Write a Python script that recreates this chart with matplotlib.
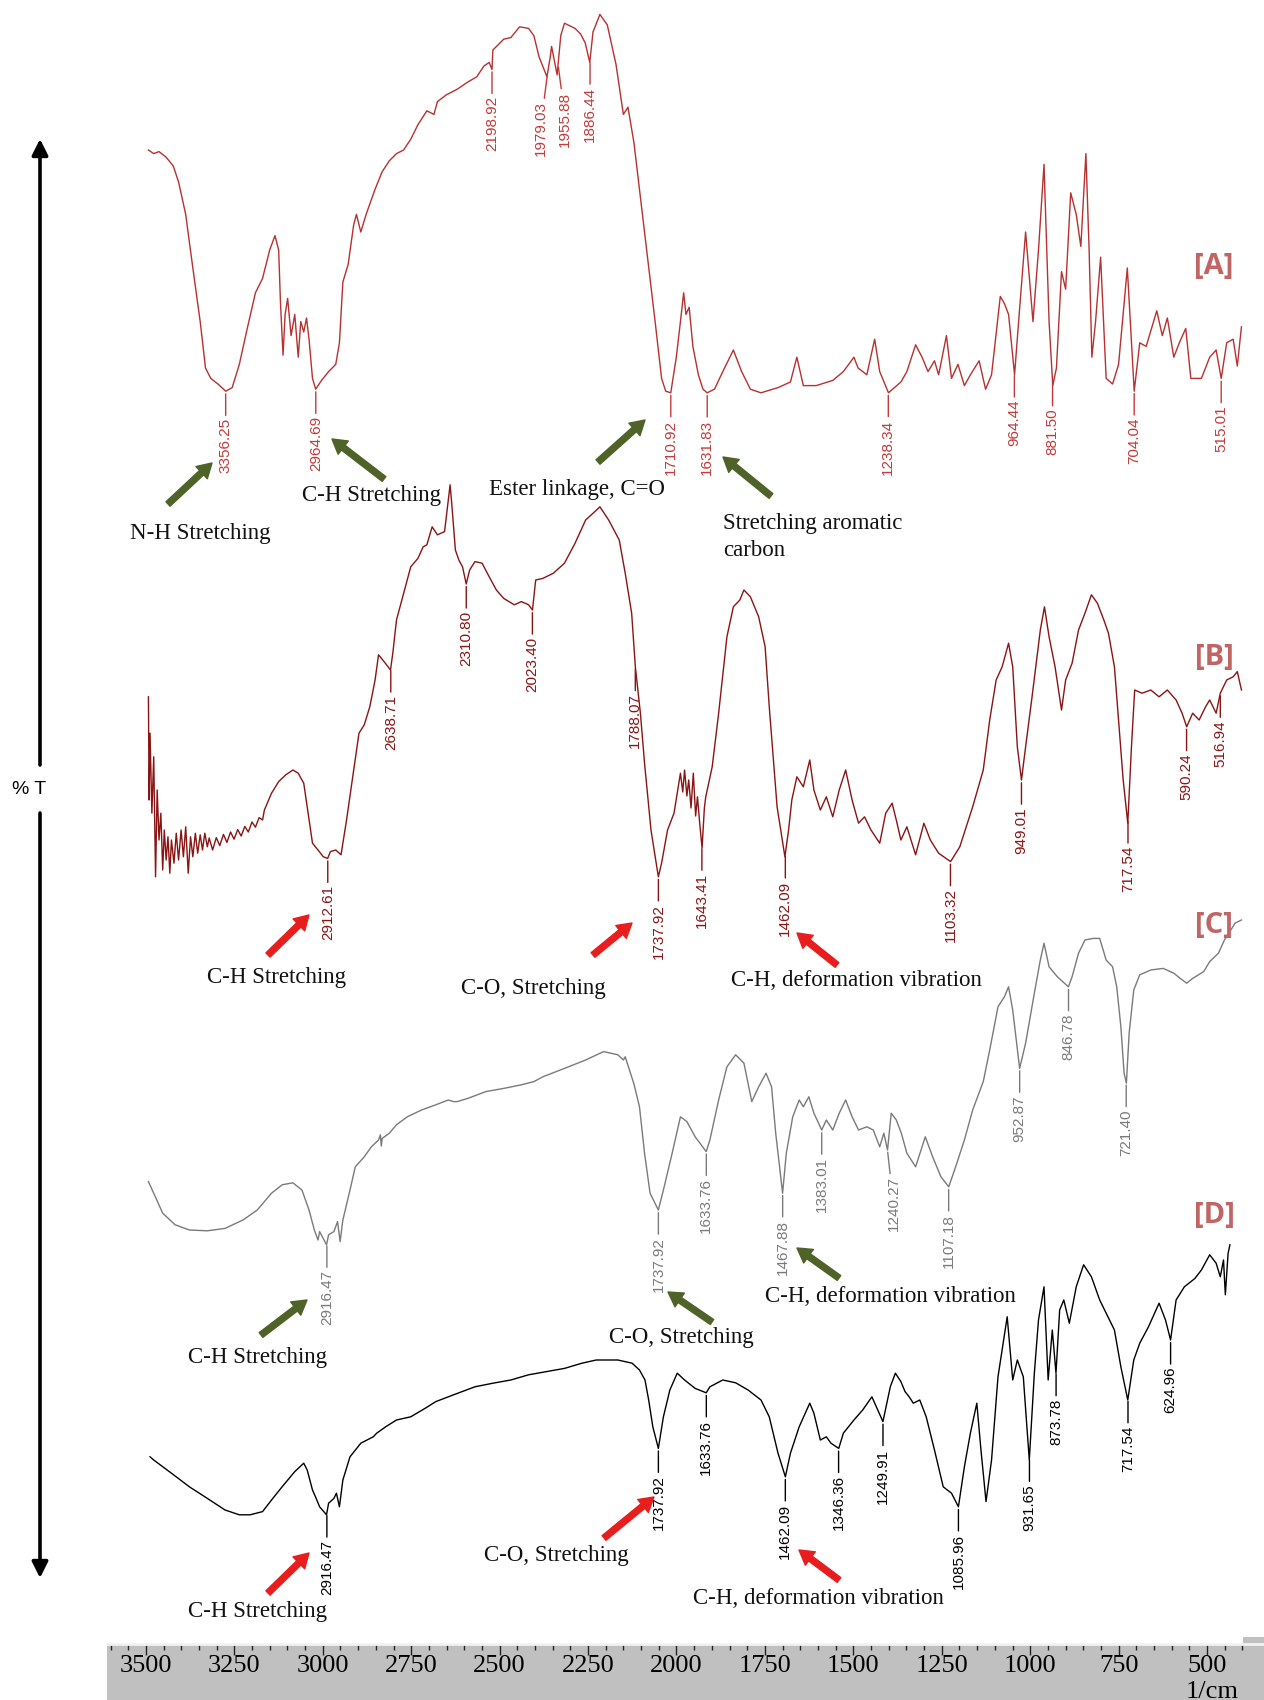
import numpy as np
import matplotlib.pyplot as plt
from matplotlib.patches import Rectangle

# FTIR spectra: (wavenumber 1/cm, transmittance in arbitrary %T units)
a_pts = [(3692, 67.5), (3669, 66.6), (3646, 67.1), (3615, 65.7), (3584, 63.5), (3561, 59.5), (3530, 51.4),
         (3499, 38.0), (3467, 24.6), (3444, 13.0), (3421, 10.4), (3390, 9.0), (3356, 7.2), (3328, 8.1),
         (3297, 13.9), (3266, 22.0), (3227, 31.8), (3196, 35.4), (3165, 42.5), (3142, 46.1), (3126, 42.5),
         (3118, 29.1), (3107, 16.2), (3098, 26.4), (3087, 30.4), (3072, 21.1), (3056, 26.4), (3041, 15.7),
         (3030, 24.6), (3017, 22.0), (3005, 25.5), (2994, 20.2), (2979, 10.4), (2965, 7.7), (2940, 9.9),
         (2909, 12.1), (2878, 13.9), (2862, 19.3), (2847, 34.5), (2824, 38.9), (2800, 48.8), (2788, 51.4),
         (2769, 47.0), (2746, 51.4), (2707, 57.7), (2676, 62.1), (2645, 64.8), (2614, 66.6), (2583, 67.5),
         (2552, 70.2), (2521, 73.8), (2482, 77.3), (2451, 76.4), (2436, 79.6), (2397, 81.3), (2350, 82.7),
         (2304, 84.5), (2265, 85.8), (2234, 88.5), (2211, 89.4), (2199, 87.6), (2195, 92.5), (2148, 95.2),
         (2117, 95.6), (2079, 98.3), (2040, 97.9), (2017, 96.1), (1997, 90.7), (1980, 85.8), (1973, 90.7),
         (1970, 93.4), (1958, 86.3), (1950, 96.1), (1942, 99.2), (1919, 97.9), (1907, 96.5), (1897, 94.3),
         (1887, 89.4), (1880, 97.0), (1865, 101.4), (1849, 98.8), (1830, 88.9), (1814, 76.4), (1804, 78.2),
         (1791, 69.3), (1768, 47.0), (1745, 24.6), (1731, 10.4), (1722, 7.2), (1711, 6.8), (1699, 15.7),
         (1690, 24.6), (1683, 31.8), (1678, 26.4), (1671, 28.2), (1663, 18.4), (1651, 11.3), (1641, 7.7),
         (1632, 6.8), (1616, 7.7), (1598, 12.1), (1575, 17.5), (1557, 12.1), (1538, 7.7), (1515, 6.8),
         (1478, 8.1), (1451, 9.5), (1437, 15.7), (1423, 8.6), (1395, 8.6), (1359, 9.9), (1336, 12.1),
         (1313, 15.7), (1304, 13.0), (1285, 11.3), (1268, 20.2), (1257, 12.1), (1238, 6.8), (1211, 9.5),
         (1198, 12.1), (1179, 18.8), (1165, 15.7), (1152, 12.1), (1138, 14.8), (1129, 11.3), (1112, 21.1),
         (1101, 10.4), (1087, 13.9), (1073, 8.6), (1060, 11.3), (1041, 14.8), (1027, 7.7), (1014, 11.3),
         (995, 30.9), (986, 29.1), (977, 26.4), (964, 11.3), (954, 26.4), (940, 47.0), (924, 24.6),
         (912, 42.5), (900, 63.9), (889, 24.6), (881, 8.6), (873, 13.0), (862, 37.1), (853, 32.7),
         (842, 56.8), (830, 51.4), (820, 43.4), (809, 66.6), (802, 42.5), (796, 15.7), (788, 24.6),
         (777, 40.7), (765, 10.4), (751, 9.0), (738, 13.9), (719, 38.0), (704, 7.2), (692, 19.3),
         (678, 18.4), (655, 27.3), (643, 21.1), (632, 25.5), (618, 15.7), (606, 19.3), (592, 22.9),
         (581, 10.4), (558, 10.4), (540, 15.7), (526, 17.5), (515, 10.4), (503, 19.3), (489, 20.2),
         (480, 13.5), (471, 23.3)]

b_pts = [(3692, 55.8), (3689, 30.0), (3685, 46.7), (3677, 26.7), (3669, 40.8), (3661, 10.8), (3654, 32.5),
         (3646, 20.0), (3638, 26.7), (3630, 12.5), (3623, 22.5), (3615, 15.0), (3607, 20.8), (3599, 11.7),
         (3592, 20.0), (3581, 14.2), (3571, 21.7), (3561, 15.0), (3550, 22.5), (3540, 15.8), (3530, 23.3),
         (3519, 11.7), (3509, 20.8), (3499, 15.8), (3488, 21.7), (3478, 16.7), (3467, 21.3), (3457, 17.5),
         (3447, 21.7), (3436, 18.3), (3428, 20.5), (3413, 17.5), (3397, 20.6), (3382, 18.6), (3366, 21.4),
         (3351, 19.4), (3335, 22.0), (3320, 20.2), (3304, 22.6), (3289, 21.0), (3273, 23.4), (3258, 22.0),
         (3242, 24.5), (3227, 23.2), (3211, 25.6), (3196, 25.0), (3188, 27.5), (3157, 31.7), (3126, 34.6),
         (3095, 36.3), (3064, 37.5), (3041, 36.7), (3017, 34.2), (3002, 28.3), (2979, 19.2), (2955, 17.5),
         (2932, 15.8), (2913, 15.4), (2901, 17.1), (2878, 17.5), (2855, 16.3), (2831, 25.0), (2800, 37.5),
         (2777, 46.7), (2754, 48.8), (2730, 53.3), (2707, 60.0), (2692, 66.3), (2668, 64.6), (2640, 62.5),
         (2630, 66.7), (2614, 75.0), (2583, 81.7), (2552, 88.3), (2521, 90.4), (2498, 93.3), (2482, 93.8),
         (2459, 98.3), (2436, 96.3), (2405, 97.1), (2389, 105.0), (2381, 108.8), (2374, 104.2), (2358, 92.5),
         (2343, 90.0), (2327, 88.3), (2311, 84.0), (2296, 87.5), (2273, 89.6), (2242, 89.2), (2211, 85.8),
         (2180, 82.5), (2148, 80.4), (2102, 78.8), (2071, 79.6), (2040, 78.8), (2023, 77.5), (2015, 81.7),
         (2009, 85.0), (1989, 85.4), (1966, 86.7), (1942, 89.2), (1919, 94.2), (1896, 100.0), (1876, 102.1),
         (1865, 103.3), (1846, 100.0), (1823, 95.0), (1810, 86.7), (1796, 76.7), (1788, 63.3), (1777, 51.7),
         (1768, 39.2), (1754, 22.5), (1738, 10.8), (1731, 14.2), (1718, 22.5), (1704, 26.7), (1690, 36.7),
         (1685, 32.0), (1681, 37.5), (1676, 31.0), (1672, 35.0), (1667, 28.0), (1662, 36.7), (1657, 26.0),
         (1653, 30.8), (1648, 24.0), (1643, 18.0), (1638, 28.0), (1635, 30.8), (1621, 38.3), (1607, 51.7),
         (1589, 70.8), (1575, 78.3), (1561, 80.0), (1552, 82.5), (1538, 80.8), (1520, 75.8), (1506, 68.3),
         (1497, 53.3), (1480, 28.3), (1463, 15.8), (1455, 22.5), (1448, 30.0), (1437, 35.8), (1423, 33.3),
         (1409, 40.0), (1400, 32.5), (1386, 27.5), (1373, 30.8), (1359, 25.8), (1345, 32.5), (1331, 37.5),
         (1317, 30.0), (1303, 24.2), (1290, 25.8), (1276, 22.5), (1257, 19.2), (1244, 26.7), (1230, 29.2),
         (1221, 25.0), (1211, 20.0), (1198, 23.3), (1179, 16.3), (1161, 24.2), (1147, 20.0), (1129, 16.7),
         (1103, 14.6), (1083, 18.3), (1055, 28.3), (1032, 37.5), (1018, 50.0), (1004, 60.0), (991, 63.3),
         (977, 69.2), (968, 63.3), (958, 43.3), (949, 35.0), (940, 43.3), (926, 55.8), (908, 72.5),
         (899, 78.3), (889, 70.8), (876, 63.3), (862, 52.5), (853, 60.0), (839, 64.2), (825, 72.5),
         (811, 76.7), (797, 81.3), (784, 79.2), (770, 75.0), (760, 71.7), (747, 63.3), (738, 50.0),
         (728, 35.0), (718, 24.2), (710, 43.3), (703, 57.5), (687, 56.7), (668, 57.5), (650, 55.8),
         (632, 57.5), (613, 55.0), (600, 51.7), (590, 48.3), (577, 51.7), (563, 50.0), (549, 53.3),
         (540, 55.0), (526, 51.7), (517, 56.7), (503, 60.0), (489, 60.8), (480, 62.1), (471, 57.5)]

c_pts = [(3692, 17.1), (3669, 14.2), (3630, 9.2), (3576, 6.3), (3514, 5.0), (3436, 4.8), (3359, 5.4),
         (3281, 7.5), (3219, 10.0), (3157, 14.2), (3111, 16.3), (3064, 16.8), (3025, 15.0), (2994, 10.0),
         (2971, 5.0), (2955, 2.5), (2948, 4.6), (2918, 1.3), (2909, 3.8), (2886, 4.6), (2870, 7.1),
         (2859, 2.1), (2847, 7.5), (2816, 15.0), (2793, 20.8), (2754, 23.3), (2723, 25.8), (2692, 27.5),
         (2684, 28.8), (2680, 26.0), (2676, 27.9), (2645, 29.2), (2614, 31.3), (2567, 33.3), (2505, 35.0),
         (2443, 36.3), (2389, 37.5), (2366, 37.1), (2350, 37.1), (2304, 37.9), (2226, 39.6), (2148, 40.4),
         (2071, 41.3), (2017, 42.1), (1989, 43.3), (1942, 45.4), (1896, 47.5), (1857, 49.6), (1826, 48.8),
         (1814, 47.5), (1810, 48.3), (1791, 41.5), (1779, 35.8), (1768, 24.2), (1756, 14.2), (1738, 10.0),
         (1727, 15.0), (1708, 24.2), (1690, 33.3), (1676, 32.1), (1658, 28.3), (1634, 24.6), (1626, 27.5),
         (1607, 37.5), (1589, 45.8), (1570, 48.8), (1552, 46.7), (1535, 37.1), (1520, 40.8), (1504, 44.2),
         (1492, 40.8), (1483, 29.2), (1468, 14.2), (1460, 24.2), (1446, 33.3), (1432, 37.5), (1423, 35.8),
         (1411, 38.3), (1400, 34.2), (1383, 30.0), (1373, 32.5), (1359, 30.0), (1345, 34.2), (1331, 37.5),
         (1317, 33.3), (1303, 30.0), (1285, 30.8), (1271, 30.0), (1257, 25.8), (1248, 29.2), (1240, 25.0),
         (1232, 34.2), (1221, 32.5), (1210, 29.2), (1198, 24.2), (1179, 20.8), (1158, 28.3), (1142, 23.3),
         (1124, 18.3), (1107, 15.8), (1092, 20.8), (1073, 27.5), (1055, 35.0), (1032, 42.1), (1018, 50.0),
         (1000, 60.8), (986, 63.3), (977, 65.8), (968, 60.0), (953, 45.4), (940, 51.7), (921, 64.2),
         (908, 72.5), (900, 76.7), (889, 70.8), (871, 68.3), (847, 65.8), (839, 68.3), (825, 74.2),
         (811, 77.5), (793, 77.9), (779, 77.9), (765, 72.5), (751, 70.8), (742, 65.8), (733, 55.8),
         (726, 44.2), (721, 41.7), (715, 54.2), (705, 65.0), (692, 68.8), (668, 70.0), (641, 70.4),
         (618, 69.2), (604, 67.9), (590, 66.7), (577, 67.9), (553, 69.6), (540, 72.1), (521, 74.2),
         (508, 77.5), (494, 80.0), (485, 81.7), (471, 82.5)]

d_pts = [(3685, 20.8), (3669, 20.0), (3592, 16.7), (3514, 13.3), (3436, 10.4), (3359, 7.5), (3297, 6.3),
         (3250, 6.3), (3196, 7.1), (3157, 10.0), (3111, 13.3), (3056, 17.1), (3017, 19.2), (3002, 17.5),
         (2979, 12.5), (2963, 10.4), (2948, 8.3), (2918, 6.3), (2909, 9.2), (2886, 10.4), (2875, 11.7),
         (2862, 8.3), (2847, 15.0), (2816, 20.8), (2769, 24.2), (2715, 25.8), (2700, 26.7), (2661, 28.3),
         (2614, 30.0), (2552, 30.8), (2490, 32.9), (2443, 34.6), (2366, 36.3), (2273, 38.3), (2195, 39.2),
         (2117, 40.0), (2040, 41.3), (1981, 42.1), (1942, 42.9), (1904, 44.2), (1873, 45.0), (1826, 45.0),
         (1795, 44.2), (1779, 42.5), (1767, 40.0), (1759, 35.0), (1750, 28.3), (1738, 22.9), (1727, 30.8),
         (1713, 37.5), (1697, 41.7), (1681, 40.0), (1658, 37.9), (1634, 36.8), (1626, 38.3), (1598, 40.0),
         (1570, 39.3), (1543, 37.5), (1515, 35.0), (1497, 30.8), (1478, 21.7), (1462, 15.8), (1451, 21.7),
         (1432, 28.3), (1409, 34.2), (1400, 31.7), (1386, 25.0), (1373, 25.8), (1363, 24.2), (1346, 22.9),
         (1336, 26.7), (1313, 30.0), (1294, 32.5), (1274, 35.8), (1250, 29.6), (1234, 38.3), (1223, 41.7),
         (1211, 39.6), (1202, 37.1), (1193, 35.8), (1184, 34.2), (1170, 35.0), (1156, 30.8), (1138, 22.5),
         (1119, 13.3), (1101, 11.7), (1086, 8.3), (1073, 18.3), (1060, 26.7), (1046, 34.2), (1037, 22.5),
         (1026, 9.6), (1014, 20.0), (1000, 40.8), (980, 55.8), (968, 40.0), (958, 45.0), (945, 40.8),
         (932, 20.0), (921, 41.7), (912, 55.0), (900, 63.3), (891, 40.0), (882, 52.5), (874, 41.7),
         (866, 57.5), (857, 60.0), (845, 54.2), (830, 63.3), (814, 68.8), (797, 65.8), (779, 60.0),
         (761, 55.8), (747, 52.5), (733, 43.3), (718, 35.0), (705, 45.0), (692, 49.2), (673, 53.3),
         (650, 59.2), (636, 55.0), (625, 50.0), (613, 60.0), (595, 63.3), (572, 65.4), (558, 67.5),
         (540, 71.3), (526, 69.2), (517, 65.8), (510, 70.0), (506, 61.3), (500, 71.7), (496, 73.8)]

# picked peaks
a_peaks = [3356.25, 2964.69, 2198.92, 1979.03, 1955.88, 1886.44, 1710.92, 1631.83,
           1238.34, 964.44, 881.50, 704.04, 515.01]
b_peaks = [2912.61, 2638.71, 2310.80, 2023.40, 1788.07, 1737.92, 1643.41, 1462.09,
           1103.32, 949.01, 717.54, 590.24, 516.94]
c_peaks = [2916.47, 1737.92, 1633.76, 1467.88, 1383.01, 1240.27, 1107.18, 952.87, 846.78, 721.40]
d_peaks = [2916.47, 1737.92, 1633.76, 1462.09, 1346.36, 1249.91, 1085.96, 931.65, 873.78,
           717.54, 624.96]

names = ['[A]', '[B]', '[C]', '[D]']
axis_ticks = [3500, 3250, 3000, 2750, 2500, 2250, 2000, 1750, 1500, 1250, 1000, 750, 500]

# sideways nudge (px) for labels that would collide
label_shift = {1979.03: -7, 1955.88: 7, 1240.27: 6}


# instrument x axis: above 2000 1/cm drawn at half the density
def fwd(w):
    w = np.asarray(w, dtype=float)
    return np.where(w <= 2000, w, 2000 + (w - 2000) / 2)


def inv(u):
    u = np.asarray(u, dtype=float)
    return np.where(u <= 2000, u, 2000 + (u - 2000) * 2)


W, H = 1264, 1700
fig = plt.figure(figsize=(W / 100, H / 100), dpi=100)
fig.patch.set_facecolor('white')

# each trace gets its own full-size transparent axes; ylim sets the vertical stacking
traces = [
    (a_pts, a_peaks, (-320, 105), '#b83030', '#c43a3a'),
    (b_pts, b_peaks, (-195, 230), '#8a1414', '#8a1414'),
    (c_pts, c_peaks, (-112.5, 312.5), '#7a7a7a', '#7a7a7a'),
    (d_pts, d_peaks, (-40, 385), '#000000', '#000000'),
]

for pts, peaks, ylim, line_c, text_c in traces:
    wn, t = map(np.array, zip(*pts))
    ax = fig.add_axes([0, 0, 1, 1])
    ax.patch.set_alpha(0)
    ax.set_xscale('function', functions=(fwd, inv))
    ax.set_xlim(4337, 422)
    ax.set_ylim(*ylim)
    ax.axis('off')
    ax.plot(wn, t, color=line_c, lw=1.0)
    for p in peaks:
        tp = np.interp(p, wn[::-1], t[::-1])
        ax.annotate(f'{p:.2f}', xy=(p, tp), xytext=(label_shift.get(p, 0), -27),
                    textcoords='offset pixels', rotation=90, ha='center', va='top',
                    fontsize=11, color=text_c, family='Liberation Sans',
                    arrowprops=dict(arrowstyle='-', color=text_c, lw=1.0, shrinkA=0, shrinkB=2))

# overlay in pixel units for the callouts
ov = fig.add_axes([0, 0, 1, 1])
ov.set_xlim(0, W)
ov.set_ylim(H, 0)
ov.axis('off')
ov.patch.set_alpha(0)

green = '#4f6228'
red = '#e81e1e'
arrows = [
    ((168, 504), (212, 463), green), ((384, 479), (332, 439), green),
    ((598, 462), (645, 420), green), ((771, 496), (723, 457), green),
    ((268, 955), (309, 915), red), ((593, 955), (632, 923), red), ((837, 965), (797, 933), red),
    ((261, 1335), (307, 1300), green), ((712, 1322), (668, 1292), green),
    ((839, 1278), (797, 1248), green),
    ((268, 1593), (309, 1553), red), ((604, 1538), (654, 1497), red), ((839, 1580), (799, 1550), red),
]
for tail, head, col in arrows:
    ov.annotate('', xy=head, xytext=tail,
                arrowprops=dict(arrowstyle='simple,head_length=0.85,head_width=1.0,tail_width=0.36',
                                color=col, mutation_scale=12, shrinkA=0, shrinkB=0))

notes = [
    (130, 534, 'N-H Stretching'), (302, 495, 'C-H Stretching'), (489, 489, 'Ester linkage, C=O'),
    (723, 524, 'Stretching aromatic'), (723, 551, 'carbon'),
    (207, 977, 'C-H Stretching'), (461, 988, 'C-O, Stretching'), (731, 980, 'C-H, deformation vibration'),
    (188, 1358, 'C-H Stretching'), (609, 1337, 'C-O, Stretching'),
    (765, 1297, 'C-H, deformation vibration'),
    (188, 1612, 'C-H Stretching'), (484, 1555, 'C-O, Stretching'),
    (693, 1598, 'C-H, deformation vibration'),
]
for x, y, s in notes:
    ov.text(x, y, s, ha='left', va='center', family='Liberation Serif', fontsize=16.5, color='#111111')

for name, y in zip(names, [266, 657, 925, 1215]):
    ov.text(1214, y, name, ha='center', va='center', family='Open Sans', weight='bold',
            fontsize=21, color='#c06464')

# %T double arrow on the left
arrow_kw = dict(arrowstyle='-|>', color='black', lw=2.6, mutation_scale=24, shrinkA=0, shrinkB=0)
ov.annotate('', xy=(40, 139), xytext=(40, 765), arrowprops=arrow_kw)
ov.annotate('', xy=(40, 1578), xytext=(40, 813), arrowprops=arrow_kw)
ov.text(29, 789, '% T', ha='center', va='center', family='Liberation Sans', fontsize=14)

# grey wavenumber ruler along the bottom
ov.add_patch(Rectangle((1243, 1637), 21, 63, color='#c0c0c0', lw=0))
bar = fig.add_axes([107 / W, 0, 1 - 107 / W, 56 / H])
bar.set_facecolor('#c0c0c0')
bar.set_xlim(3610, 339)
bar.set_ylim(0, 1)
bar.set_xticks(axis_ticks)
bar.set_xticks(np.arange(400, 3601, 50), minor=True)
bar.set_yticks([])
bar.tick_params(axis='x', which='both', top=True, bottom=False, labeltop=False,
                labelbottom=False, direction='in', color='#222222', width=1)
bar.tick_params(axis='x', which='major', length=8)
bar.tick_params(axis='x', which='minor', length=4)
for side in ['left', 'right', 'bottom']:
    bar.spines[side].set_visible(False)
bar.spines['top'].set_color('#f2f2f2')
bar.spines['top'].set_linewidth(2)
for v in axis_ticks:
    bar.text(v, 0.6, str(v), ha='center', va='center', family='Liberation Serif', fontsize=19)
bar.text(486, 0.14, '1/cm', ha='center', va='center', family='Liberation Serif', fontsize=19)

fig.savefig('out.png', dpi=100, facecolor='white')
